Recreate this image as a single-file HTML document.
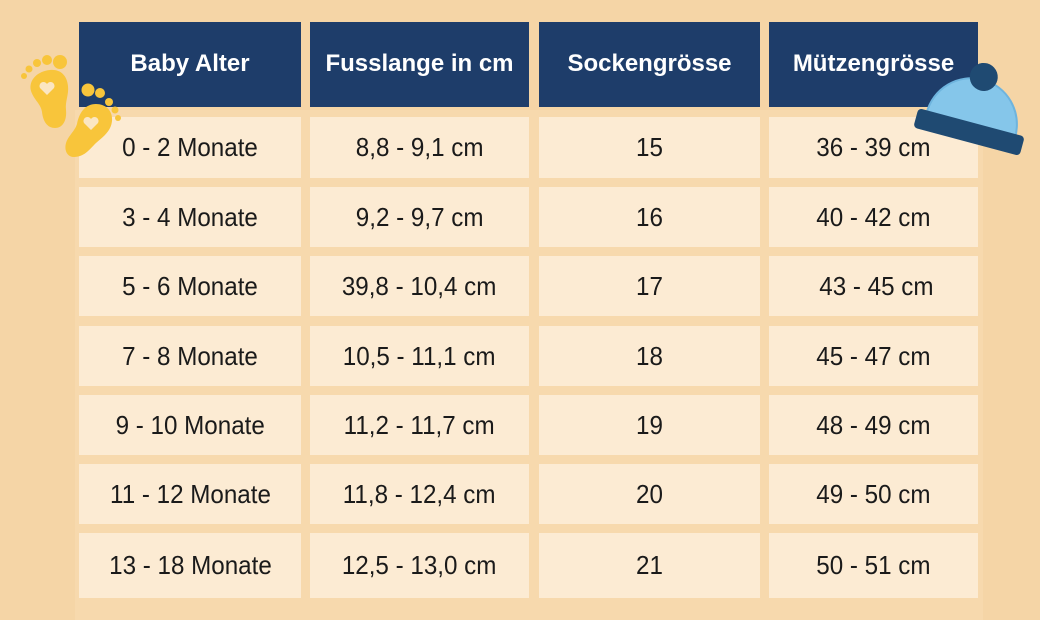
<!DOCTYPE html>
<html><head><meta charset="utf-8">
<style>
html,body{margin:0;padding:0;}
body{width:1040px;height:620px;background:#f5d5a6;position:relative;overflow:hidden;font-family:"Liberation Sans",sans-serif;}
.panel{position:absolute;left:75px;top:110px;width:908px;height:510px;background:#f7d9ad;}
.h{position:absolute;top:22px;height:85px;background:#1e3d6a;color:#fff;font-weight:bold;font-size:24px;display:flex;align-items:center;justify-content:center;padding-bottom:2px;box-sizing:border-box;}
.c{position:absolute;background:#fcebd3;color:#1a1a1a;display:flex;align-items:center;justify-content:center;font-size:26px;}
.c span{display:inline-block;transform:scaleX(0.93);white-space:nowrap;}
</style></head><body>
<div class="panel"></div>

<div class="h" style="left:79px;width:222px;">Baby Alter</div>
<div class="h" style="left:310px;width:219px;">Fusslange in cm</div>
<div class="h" style="left:539px;width:221px;">Sockengrösse</div>
<div class="h" style="left:769px;width:209px;">Mützengrösse</div>

<!-- row 1 -->
<div class="c" style="left:79px;width:222px;top:117px;height:61px;"><span>0 - 2 Monate</span></div>
<div class="c" style="left:310px;width:219px;top:117px;height:61px;"><span>8,8 - 9,1 cm</span></div>
<div class="c" style="left:539px;width:221px;top:117px;height:61px;"><span>15</span></div>
<div class="c" style="left:769px;width:209px;top:117px;height:61px;"><span>36 - 39 cm</span></div>
<!-- row 2 -->
<div class="c" style="left:79px;width:222px;top:187px;height:60px;"><span>3 - 4 Monate</span></div>
<div class="c" style="left:310px;width:219px;top:187px;height:60px;"><span>9,2 - 9,7 cm</span></div>
<div class="c" style="left:539px;width:221px;top:187px;height:60px;"><span>16</span></div>
<div class="c" style="left:769px;width:209px;top:187px;height:60px;"><span>40 - 42 cm</span></div>
<!-- row 3 -->
<div class="c" style="left:79px;width:222px;top:256px;height:60px;"><span>5 - 6 Monate</span></div>
<div class="c" style="left:310px;width:219px;top:256px;height:60px;"><span>39,8 - 10,4 cm</span></div>
<div class="c" style="left:539px;width:221px;top:256px;height:60px;"><span>17</span></div>
<div class="c" style="left:769px;width:209px;top:256px;height:60px;padding-left:6px;box-sizing:border-box;"><span>43 - 45 cm</span></div>
<!-- row 4 -->
<div class="c" style="left:79px;width:222px;top:326px;height:60px;"><span>7 - 8 Monate</span></div>
<div class="c" style="left:310px;width:219px;top:326px;height:60px;"><span>10,5 - 11,1 cm</span></div>
<div class="c" style="left:539px;width:221px;top:326px;height:60px;"><span>18</span></div>
<div class="c" style="left:769px;width:209px;top:326px;height:60px;"><span>45 - 47 cm</span></div>
<!-- row 5 -->
<div class="c" style="left:79px;width:222px;top:395px;height:60px;"><span>9 - 10 Monate</span></div>
<div class="c" style="left:310px;width:219px;top:395px;height:60px;"><span>11,2 - 11,7 cm</span></div>
<div class="c" style="left:539px;width:221px;top:395px;height:60px;"><span>19</span></div>
<div class="c" style="left:769px;width:209px;top:395px;height:60px;"><span>48 - 49 cm</span></div>
<!-- row 6 -->
<div class="c" style="left:79px;width:222px;top:464px;height:60px;"><span>11 - 12 Monate</span></div>
<div class="c" style="left:310px;width:219px;top:464px;height:60px;"><span>11,8 - 12,4 cm</span></div>
<div class="c" style="left:539px;width:221px;top:464px;height:60px;"><span>20</span></div>
<div class="c" style="left:769px;width:209px;top:464px;height:60px;"><span>49 - 50 cm</span></div>
<!-- row 7 -->
<div class="c" style="left:79px;width:222px;top:533px;height:65px;"><span>13 - 18 Monate</span></div>
<div class="c" style="left:310px;width:219px;top:533px;height:65px;"><span>12,5 - 13,0 cm</span></div>
<div class="c" style="left:539px;width:221px;top:533px;height:65px;"><span>21</span></div>
<div class="c" style="left:769px;width:209px;top:533px;height:65px;"><span>50 - 51 cm</span></div>

<svg width="1040" height="620" style="position:absolute;left:0;top:0;" xmlns="http://www.w3.org/2000/svg">
  <!-- foot 1 -->
  <g fill="#f8c53b">
    <path d="M50 70 C60 69 67 75 68 86 C69 95 65 101 66 110 C67 120 63 128 55 128 C47 128 43 121 42 112 C41 104 34 100 31 91 C28 80 38 71 50 70 Z"/>
    <circle cx="60" cy="62" r="7"/>
    <circle cx="47" cy="60" r="5"/>
    <circle cx="37" cy="63" r="4"/>
    <circle cx="29" cy="69" r="3.5"/>
    <circle cx="24" cy="76" r="3"/>
  </g>
  <path d="M47 95 L40 88 A3.8 3.8 0 0 1 47 84 A3.8 3.8 0 0 1 54 88 Z" fill="#fbe6c2"/>
  <!-- foot 2 -->
  <g fill="#f8c53b">
    <path d="M96 104 C106 104 113 111 112 121 C111 131 104 136 96 143 C89 150 84 157 74 157 C67 157 64 150 66 143 C68 136 75 131 77 124 C79 113 85 104 96 104 Z"/>
    <circle cx="88" cy="90" r="6.5"/>
    <circle cx="100" cy="93" r="5"/>
    <circle cx="109" cy="102" r="4"/>
    <circle cx="115" cy="110" r="3.5"/>
    <circle cx="118" cy="118" r="3"/>
  </g>
  <path d="M91 130 L84 123 A3.8 3.8 0 0 1 91 119 A3.8 3.8 0 0 1 98 123 Z" fill="#fbe6c2"/>
  <!-- hat -->
  <g transform="translate(969 132) rotate(15)">
    <path d="M-46 -6 C-46 -34 -25 -54 0 -54 C25 -54 46 -34 46 -6 Z" fill="#85c6ea" stroke="#6eb4de" stroke-width="2"/>
    <circle cx="0" cy="-57" r="14" fill="#1f4a72"/>
    <rect x="-55" y="-10" width="110" height="20" rx="4" fill="#1f4a72"/>
  </g>
</svg>
</body></html>
